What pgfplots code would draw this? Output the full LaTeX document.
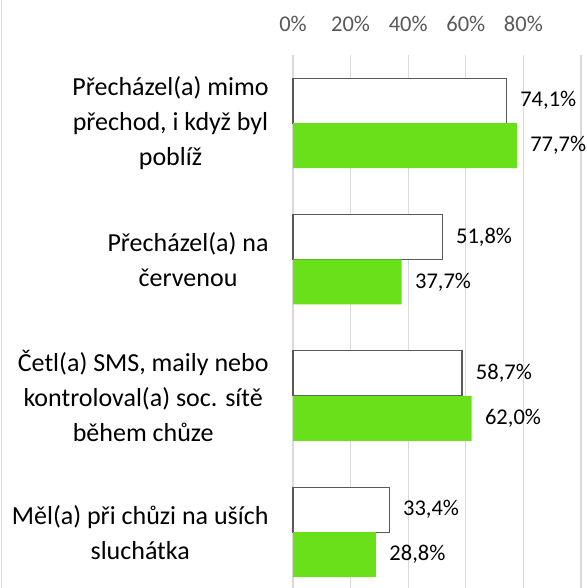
\documentclass[border=0pt]{standalone}
\usepackage{fontspec}
\setmainfont{Carlito}
\usepackage{pgfplots}
\pgfplotsset{compat=1.18}
\definecolor{barGreen}{HTML}{6AE01A}
\definecolor{gridGray}{HTML}{D9D9D9}
\definecolor{tickGray}{HTML}{595959}
\definecolor{edgeGray}{HTML}{595959}

\begin{document}
\begin{tikzpicture}
\begin{axis}[
    at={(293bp,0bp)}, anchor=south west,
    scale only axis, width=288bp, height=533bp,
    xbar, bar width=0.33,
    xmin=0, xmax=100, ymin=-0.41, ymax=3.5,
    axis line style={draw=none},
    tick style={draw=none},
    xtick={0,20,40,60,80,100},
    xticklabels={0\%,20\%,40\%,60\%,80\%,{}},
    xticklabel pos=right,
    xticklabel style={anchor=base, yshift=23bp, inner sep=0pt,
        font=\fontsize{22.5bp}{26bp}\selectfont, text=tickGray},
    xmajorgrids,
    major grid style={draw=gridGray, line width=1.2bp},
    ytick={0,1,2,3},
    yticklabels={
        {Měl(a) při chůzi na uších\\sluchátka},
        {Četl(a) SMS, maily nebo\\kontroloval(a) soc. sítě\\během chůze},
        {Přecházel(a) na\\červenou},
        {Přecházel(a) mimo\\přechod, i když byl\\poblíž}},
    yticklabel style={anchor=east, xshift=-20bp, inner sep=0pt, align=center,
        font=\fontsize{26bp}{35bp}\selectfont},
    point meta=x,
    nodes near coords={\pgfmathprintnumber[fixed, fixed zerofill, precision=1, use comma, assume math mode=true]{\pgfplotspointmeta}\%},
    every node near coord/.append style={font=\fontsize{22.5bp}{26bp}\selectfont, xshift=10bp},
    clip=false,
]
\addplot[fill=white, draw=edgeGray, line width=1.2bp, bar shift=0.165] coordinates {
    (33.4,0) (58.7,1) (51.8,2) (74.1,3)
};
\addplot[fill=barGreen, draw=none, bar shift=-0.165] coordinates {
    (28.8,0) (62.0,1) (37.7,2) (77.7,3)
};
\end{axis}
\draw[gridGray, line width=1.5bp] (1.5bp,0bp) -- (1.5bp,588bp);
\pgfresetboundingbox
\path (0bp,0bp) rectangle (587bp,588bp);
\end{tikzpicture}
\end{document}
